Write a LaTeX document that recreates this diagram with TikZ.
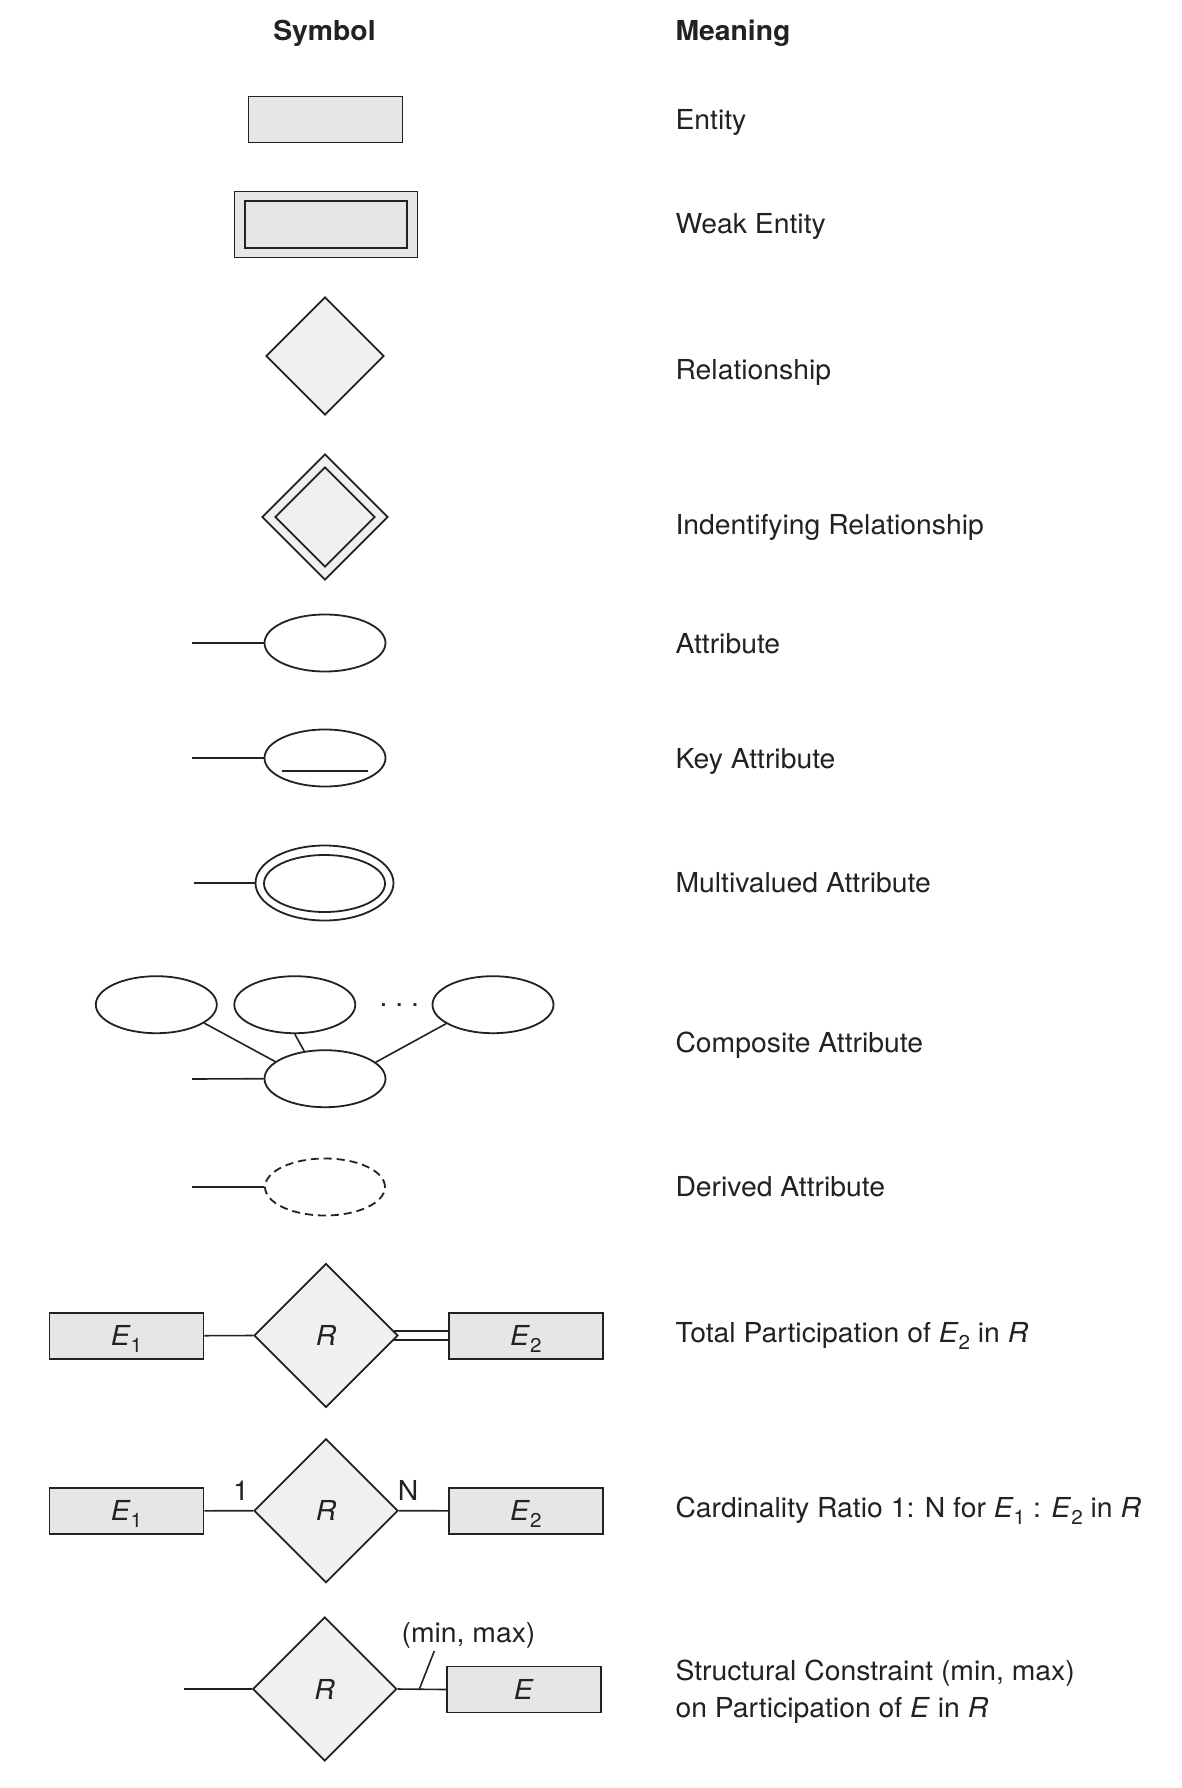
\documentclass[tikz,border=0pt]{standalone}
\usepackage{fontspec}
\setmainfont[FakeStretch=1.03]{TeX Gyre Heros}
\usetikzlibrary{shapes.geometric,calc}
\definecolor{ink}{HTML}{222222}
\definecolor{entfill}{HTML}{E6E6E6}
\definecolor{relfill}{HTML}{F0F0F0}
\newcommand{\lsub}[1]{\raisebox{-7pt}{\fontsize{20}{20}\selectfont #1}}
\begin{document}
\begin{tikzpicture}[x=1pt,y=-1pt,
  every node/.style={font=\fontsize{27.5}{37}\selectfont, text=ink},
  ent/.style={draw=ink, line width=1.8pt, fill=entfill, rectangle, inner sep=0pt,
    minimum width=154pt, minimum height=46pt, text height=20pt, text depth=0pt},
  rel/.style={draw=ink, line width=1.8pt, fill=relfill, diamond, aspect=1, inner sep=0pt,
    minimum width=144pt, minimum height=144pt, text height=20pt, text depth=0pt},
  attr/.style={draw=ink, line width=1.8pt, fill=white, ellipse, inner sep=0pt,
    minimum width=121pt, minimum height=57pt},
  conn/.style={draw=ink, line width=1.6pt},
  meaning/.style={anchor=base west},
  head/.style={anchor=base, font=\fontsize{27.5}{37}\selectfont\bfseries}
]
\fill[white] (0,0) rectangle (1182,1788);
\useasboundingbox (0,0) rectangle (1182,1788);

% headings
\node[head] (hsym) at (324.5,40) {Symbol};
\node[head, anchor=base west] (hmean) at (672,40) {Meaning};

% entity
\node[ent] (ent) at (325.5,119.5) {};
\node[meaning] (m1) at (672,129.3) {Entity};

% weak entity
\node[ent, minimum width=183pt, minimum height=66pt] (wkout) at (326,224.5) {};
\node[ent, minimum width=162pt, minimum height=47pt] (wkin) at (326,224.5) {};
\node[meaning] (m2) at (672,233.3) {Weak Entity};

% relationship
\node[rel, minimum width=118pt, minimum height=118pt] (rel) at (325,356) {};
\node[meaning] (m3) at (672,379.3) {Relationship};

% identifying relationship
\node[rel, minimum width=126pt, minimum height=126pt] (idout) at (325,517) {};
\node[rel, minimum width=100pt, minimum height=100pt] (idin) at (325,517) {};
\node[meaning] (m4) at (672,534) {Indentifying Relationship};

% attribute
\coordinate (a5) at (192,643);
\node[attr] (att) at (325,643) {};
\draw[conn] (a5) -- (att.west);
\node[meaning] (m5) at (672,653.3) {Attribute};

% key attribute
\coordinate (a6) at (192,758);
\node[attr] (key) at (325,758) {};
\draw[conn] (a6) -- (key.west);
\draw[conn] ($(key.center)+(-42.7,12.7)$) -- ($(key.center)+(43.3,12.7)$);
\node[meaning] (m6) at (672,768.3) {Key Attribute};

% multivalued attribute
\coordinate (a7) at (194,883);
\node[attr, minimum width=138pt, minimum height=75pt] (mvout) at (324.5,883) {};
\node[attr] (mvin) at (324.5,883.5) {};
\draw[conn] (a7) -- (mvout.west);
\node[meaning] (m7) at (672,892.3) {Multivalued Attribute};

% composite attribute
\node[attr] (c1) at (156.3,1004.7) {};
\node[attr] (c2) at (294.8,1004.7) {};
\node[attr] (c3) at (493,1004.7) {};
\node[attr] (c0) at (325,1078.7) {};
\node[anchor=base west] (dots) at (376,1006) {.\ .\ .};
\draw[conn] (c1.-21.8) -- (c0.161.3);
\draw[conn] (c2.-90) -- (c0.127.5);
\draw[conn] (c3.-158.1) -- (c0.18.9);
\coordinate (a8) at (192,1079);
\draw[conn] (a8) -- (c0.west);
\node[meaning] (m8) at (672,1052.7) {Composite Attribute};

% derived attribute
\coordinate (a9) at (192,1187);
\node[attr, dash pattern=on 8pt off 5pt, minimum width=120pt] (der) at (325,1187) {};
\draw[conn] (a9) -- (der.west);
\node[meaning] (m9) at (672,1196.7) {Derived Attribute};

% total participation
\node[ent] (t1) at (126.5,1335.7) {\textit{E}\lsub{1}};
\node[rel] (tr) at (326,1335.5) {\textit{R}};
\node[ent] (t2) at (525.8,1335.7) {\textit{E}\lsub{2}};
\draw[conn] (t1.east) -- (tr.west);
\draw[conn] (tr.4.27) -- (tr.4.27 -| t2.west);
\draw[conn] (tr.-4.27) -- (tr.-4.27 -| t2.west);
\node[meaning] (m10) at (672,1342.3) {Total Participation of \textit{E}\lsub{2} in \textit{R}};

% cardinality ratio
\node[ent] (k1) at (126.5,1510.8) {\textit{E}\lsub{1}};
\node[rel] (kr) at (326,1510.7) {\textit{R}};
\node[ent] (k2) at (525.8,1510.8) {\textit{E}\lsub{2}};
\draw[conn] (k1.east) -- (kr.west);
\draw[conn] (kr.east) -- (k2.west);
\node[anchor=base] (one) at (241,1500.7) {1};
\node[anchor=base] (enn) at (408,1500.7) {N};
\node[meaning] (m11) at (672,1517.3) {Cardinality Ratio 1: N for \textit{E}\lsub{1} : \textit{E}\lsub{2} in \textit{R}};

% structural constraint
\coordinate (s0) at (184.3,1689);
\node[rel] (sr) at (324.7,1689) {\textit{R}};
\node[ent] (se) at (523.7,1689.5) {\textit{E}};
\draw[conn] (s0) -- (sr.west);
\draw[conn] (sr.east) -- (se.west);
\coordinate (tick) at ($(sr.east)!0.45!(se.west)$);
\coordinate (ticktop) at (434.3,1651);
\node[anchor=base] (mm) at (468.5,1642.5) {(min, max)};
\draw[conn] (tick) -- (ticktop);
\node[meaning] (m12a) at (672,1680) {Structural Constraint (min, max)};
\node[meaning] (m12b) at (672,1717.3) {on Participation of \textit{E} in \textit{R}};
\end{tikzpicture}
\end{document}
